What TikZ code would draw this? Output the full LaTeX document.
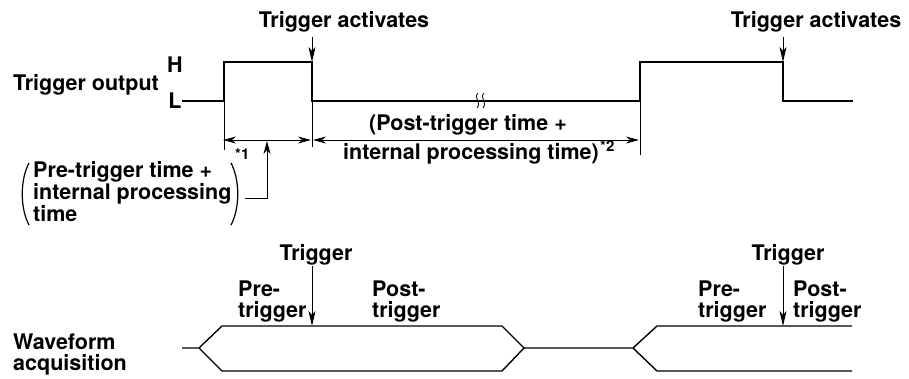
\documentclass[tikz,border=0pt]{standalone}
\usepackage{fontspec}
\setmainfont{TeX Gyre Heros}
\usetikzlibrary{arrows.meta}
\begin{document}
\begin{tikzpicture}[x=1pt, y=-1pt,
  lbl/.style={font=\fontsize{21.5}{20.5}\selectfont\bfseries, inner sep=0pt, align=left},
  note/.style={font=\fontsize{15}{15}\selectfont\bfseries, inner sep=0pt},
  signal/.style={line width=2.4pt, line join=miter},
  wave/.style={line width=1.4pt},
  dimline/.style={line width=0.9pt},
  trigarrow/.style={line width=1pt, -{Stealth[length=15pt, width=7pt, inset=4pt]}},
  dimarrow/.style={dimline, {Stealth[length=13pt, width=7pt, inset=4pt]}-{Stealth[length=13pt, width=7pt, inset=4pt]}}]
\useasboundingbox (0,0) rectangle (909,378);
% Trigger output signal
\draw[signal] (182,101) -- (224,101) coordinate (rise1) -- (224,62) -- (312,62) coordinate (fall1)
  -- (312,101) coordinate (low1) -- (640,101) coordinate (rise2) -- (640,62) -- (783,62) coordinate (fall2)
  -- (783,101) -- (853,101);
% break mark on the long low level
\draw[line width=0.8pt] (478,93) .. controls (473,98) and (482,102) .. (477,108);
\draw[line width=0.8pt] (484,93) .. controls (479,98) and (488,102) .. (483,108);
% Labels of the signal
\node[lbl, anchor=base west] (trigout) at (13,90) {Trigger output};
\node[lbl, anchor=base] (hlvl) at (175,72) {H};
\node[lbl, anchor=base] (llvl) at (175,108) {L};
\node[lbl, anchor=base] (act1) at (344,27) {Trigger activates};
\node[lbl, anchor=base] (act2) at (816,27) {Trigger activates};
\draw[trigarrow] ([yshift=-5pt]act1.south -| fall1) -- (fall1);
\draw[trigarrow] ([yshift=-5pt]act2.south -| fall2) -- (fall2);
% Extension lines
\draw[dimline] (rise1) -- ++(0,49) coordinate (ext1);
\draw[dimline] (low1) -- ++(0,46) coordinate (ext2);
\draw[dimline] (rise2) -- ++(0,54) coordinate (ext3);
% Time spans
\coordinate (d1a) at (223,140);
\coordinate (d1b) at (311,140);
\coordinate (d2a) at (313,140);
\coordinate (d2b) at (639,140);
\draw[dimarrow] (d1a) -- (d1b);
\draw[dimarrow] (d2a) -- (d2b);
\node[note, anchor=base west] (star1) at (235,159) {*1};
\node[lbl, anchor=base] (post1) at (468,130) {(Post-trigger time +};
\node[lbl, anchor=base] (post2) at (471,159) {internal processing time)};
\node[note, anchor=north west] (star2) at ([xshift=1pt, yshift=2pt]post2.north east) {*2};
% Pre-trigger time in brackets
\node[lbl, anchor=base west] (pretext) at (33,221) {Pre-trigger time +\\internal processing\\time};
\draw[line width=1.2pt] (29,163) .. controls (20,180) and (20,208) .. (29,225);
\draw[line width=1.2pt] (231,163) .. controls (240,180) and (240,208) .. (231,225);
\coordinate (lead) at (245,198);
\coordinate (leadtip) at (267,141);
\draw[dimline, -{Stealth[length=13pt, width=7pt, inset=4pt]}] (lead) -| (leadtip);
% Waveform acquisition
\draw[wave] (182,348) -- (199,348) coordinate (w1) -- (222,326) -- (312,326) coordinate (trig1)
  -- (502,326) -- (524,348) coordinate (w2) -- (502,371) -- (222,371) -- (w1);
\draw[wave] (w2) -- (633,348) coordinate (w3) -- (657,326) -- (783,326) coordinate (trig2) -- (852,326);
\draw[wave] (w3) -- (657,371) -- (852,371);
\node[lbl, anchor=base west] (wavelbl) at (13,370) {Waveform\\acquisition};
\node[lbl, anchor=base] (trg1) at (316,260) {Trigger};
\node[lbl, anchor=base] (trg2) at (788,260) {Trigger};
\draw[trigarrow] ([yshift=-1pt]trg1.south -| trig1) -- (trig1);
\draw[trigarrow] ([yshift=-1pt]trg2.south -| trig2) -- (trig2);
\node[lbl, anchor=base west] (pre1) at (238,317) {Pre-\\trigger};
\node[lbl, anchor=base west] (pst1) at (372,317) {Post-\\trigger};
\node[lbl, anchor=base west] (pre2) at (698,317) {Pre-\\trigger};
\node[lbl, anchor=base west] (pst2) at (793,317) {Post-\\trigger};
\end{tikzpicture}
\end{document}
